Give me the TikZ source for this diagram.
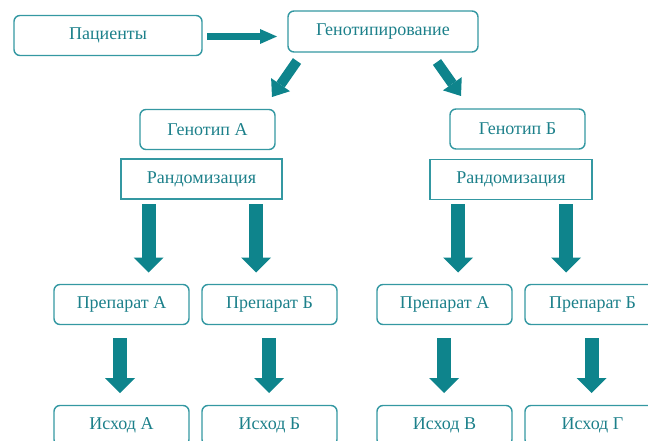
\documentclass[tikz,border=0pt]{standalone}
\usepackage{fontspec}
\setmainfont{Liberation Serif}
\usetikzlibrary{arrows.meta}
\definecolor{boxteal}{RGB}{52,152,162}
\definecolor{textteal}{RGB}{28,128,138}
\definecolor{arrteal}{RGB}{14,132,140}
\tikzset{
  rbox/.style={draw=boxteal, line width=1.4pt, rounded corners=6pt, text=textteal,
    minimum width=135pt, minimum height=40pt, inner sep=0pt,
    font=\fontsize{18}{21}\selectfont},
  sbox/.style={rbox, rounded corners=0pt, minimum width=161pt},
  bigarr/.style={line width=14pt, color=arrteal,
    -{Triangle[width=30pt, length=15pt, line width=0pt]}},
  smallarr/.style={line width=7pt, color=arrteal,
    -{Triangle[width=15pt, length=17pt, line width=0pt]}},
  diagarr/.style={line width=10pt, color=arrteal,
    -{Triangle[width=23pt, length=15pt, line width=0pt]}}
}

\begin{document}
\begin{tikzpicture}[x=1pt, y=-1pt]
\useasboundingbox (0,0) rectangle (648,441);

% top row
\node[rbox, minimum width=188pt] (pac) at (108,35.5) {Пациенты};
\node[rbox, minimum width=190pt, minimum height=41pt] (gen) at (383,31.5) {Генотипирование};

% genotypes
\node[rbox] (gtA) at (207.5,129.5) {Генотип А};
\node[rbox] (gtB) at (517.5,129) {Генотип Б};
\node[sbox] (randA) at (201.5,179) {Рандомизация};
\node[sbox, minimum width=162pt] (randB) at (511,179.5) {Рандомизация};

% drugs and outcomes
\foreach \nm/\x/\drug/\res in {aa/121.5/Препарат А/Исход А, ab/269.5/Препарат Б/Исход Б,
    ba/444.5/Препарат А/Исход В, bb/592.5/Препарат Б/Исход Г}{
  \node[rbox] (prep\nm) at (\x,304.5) {\drug};
  \node[rbox] (out\nm) at (\x,425.5) {\res};
}

% arrow ends
\coordinate (pacE) at (207,36.5);  \coordinate (genW) at (277,36.5);
\coordinate (genL) at (297,61);    \coordinate (gtAN) at (272,97);
\coordinate (genR) at (437,62);    \coordinate (gtBN) at (461,96);
\foreach \nm/\x in {aa/148.5, ab/256, ba/458, bb/566}{
  \coordinate (r\nm) at (\x,204);
  \coordinate (p\nm) at (\x,272.5);
}
\foreach \nm/\x in {aa/120, ab/269, ba/444, bb/591.5}{
  \coordinate (d\nm) at (\x,338);
  \coordinate (o\nm) at (\x,393);
}

\draw[smallarr] (pacE) -- (genW);
\draw[diagarr] (genL) -- (gtAN);
\draw[diagarr] (genR) -- (gtBN);
\foreach \nm in {aa, ab, ba, bb}{
  \draw[bigarr] (r\nm) -- (p\nm);
  \draw[bigarr] (d\nm) -- (o\nm);
}
\end{tikzpicture}
\end{document}
